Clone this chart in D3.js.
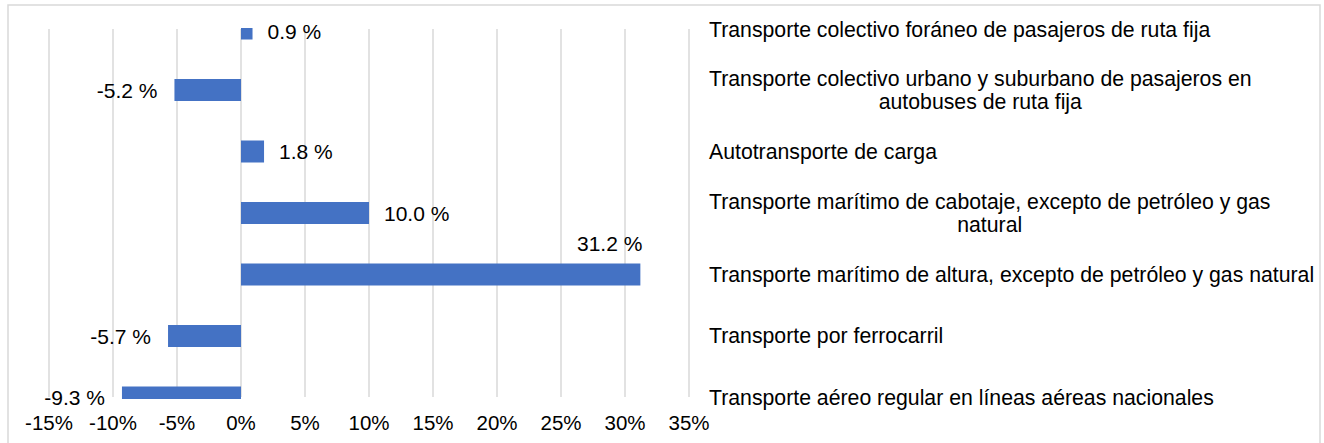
<!DOCTYPE html>
<html>
<head>
<meta charset="utf-8">
<script src="https://cdn.jsdelivr.net/npm/d3@7"></script>
<style>
  html, body { margin: 0; padding: 0; background: #fff; }
  svg { display: block; font-family: Arial, "Liberation Sans", sans-serif; }
</style>
</head>
<body>
<div id="chart"></div>
<script>
// categories (line breaks as in the original) and growth values in %
const categories = [
    "Transporte colectivo foráneo de pasajeros de ruta fija",
    "Transporte colectivo urbano y suburbano de pasajeros en\nautobuses de ruta fija",
    "Autotransporte de carga",
    "Transporte marítimo de cabotaje, excepto de petróleo y gas\nnatural",
    "Transporte marítimo de altura, excepto de petróleo y gas natural",
    "Transporte por ferrocarril",
    "Transporte aéreo regular en líneas aéreas nacionales"
];
const values = [0.9, -5.2, 1.8, 10.0, 31.2, -5.7, -9.3];
const tickValues = [-15, -10, -5, 0, 5, 10, 15, 20, 25, 30, 35];

const width = 1324, height = 443;

const svg = d3.select("#chart")
    .append("svg")
    .attr("width", width)
    .attr("height", height);

// outer frame
svg.append("rect")
    .attr("x", 8)
    .attr("y", 5)
    .attr("width", 1312)
    .attr("height", 460)
    .attr("fill", "none")
    .attr("stroke", "#d9d9d9")
    .attr("stroke-width", 1.5);

const x = d3.scaleLinear()
    .domain([-15, 35])
    .range([49, 689]);

const y = d3.scalePoint()
    .domain(categories)
    .range([28.5, 397.5]);

const plotTop = 29, plotBottom = 397;
const barH = 22;

// vertical gridlines
svg.append("g")
    .selectAll("line")
    .data(tickValues)
    .join("line")
    .attr("x1", d => x(d))
    .attr("x2", d => x(d))
    .attr("y1", plotTop)
    .attr("y2", plotBottom)
    .attr("stroke", "#d9d9d9")
    .attr("stroke-width", 1.5);

// clip bars to the plot area
svg.append("clipPath")
    .attr("id", "plotClip")
    .append("rect")
    .attr("x", 0)
    .attr("y", 28)
    .attr("width", width)
    .attr("height", 371);

svg.append("g")
    .attr("clip-path", "url(#plotClip)")
    .selectAll("rect")
    .data(values)
    .join("rect")
    .attr("x", d => x(Math.min(0, d)))
    .attr("y", (d, i) => y(categories[i]) - barH / 2)
    .attr("width", d => Math.abs(x(d) - x(0)))
    .attr("height", barH)
    .attr("fill", "#4472c4");

// x tick labels
svg.append("g")
    .selectAll("text")
    .data(tickValues)
    .join("text")
    .attr("x", d => x(d))
    .attr("y", 422)
    .attr("text-anchor", "middle")
    .attr("dominant-baseline", "central")
    .attr("font-size", "20.5px")
    .attr("fill", "#000")
    .text(d => d + "%");

// data labels
const maxVal = d3.max(values);
svg.append("g")
    .selectAll("text")
    .data(values)
    .join("text")
    .attr("x", d => {
        if (d === maxVal) return x(d) + 2;           // sits above the longest bar
        return d < 0 ? x(d) - 17 : x(d) + 15;
    })
    .attr("y", (d, i) => {
        const cy = y(categories[i]);
        if (d === maxVal) return cy - 31;
        return Math.max(cy, 31);
    })
    .attr("text-anchor", d => (d < 0 || d === maxVal) ? "end" : "start")
    .attr("dominant-baseline", "central")
    .attr("font-size", "21px")
    .attr("fill", "#000")
    .text(d => d.toFixed(1) + " %");

// category labels: block starts at labelX, lines centred inside the block
const labelX = 709, lineH = 23;
const labels = svg.append("g")
    .selectAll("text")
    .data(categories)
    .join("text")
    .attr("font-size", "21.25px")
    .attr("fill", "#000")
    .attr("dominant-baseline", "central");

labels.each(function(d) {
    const t = d3.select(this);
    const lines = d.split("\n");
    const cy = Math.max(y(d), 30);
    const spans = lines.map((ln, k) => t.append("tspan")
        .attr("y", cy + (k - (lines.length - 1) / 2) * lineH)
        .text(ln));
    const w = d3.max(spans, s => s.node().getComputedTextLength());
    spans.forEach(s => s.attr("x", labelX + w / 2).attr("text-anchor", "middle"));
});
</script>
</body>
</html>
